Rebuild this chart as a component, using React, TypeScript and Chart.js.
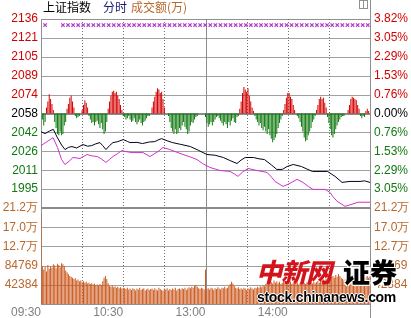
import React, { useEffect, useRef } from 'react';
import { Chart, registerables } from 'chart.js';

Chart.register(...registerables);

// ---------------- data ----------------
const prevClose = 2058.2;
const priceStep = 15.72;
const priceLabels = ['2136', '2121', '2105', '2089', '2074', '2058', '2042', '2026', '2011', '1995'];
const pctStep = 0.764;
const pctLabels = ['3.82%', '3.05%', '2.29%', '1.53%', '0.76%', '0.00%', '0.76%', '1.53%', '2.29%', '3.05%'];
const volStep = 42384;
const volLabels = ['21.2万', '17.0万', '12.7万', '84769', '42384'];
const timeTickMinutes = [0, 60, 120, 180];
const timeTickLabels = ['09:30', '10:30', '13:00', '14:00'];

// 上证指数 (black line)
const indexMinutes = [0, 3, 6, 9, 12, 15, 17.5, 20, 22.6, 26, 30.6, 34, 37, 40, 43, 45, 47.4, 50, 52.5, 56, 60, 63, 65, 70, 74, 79, 83, 86, 88, 92, 96, 102, 109, 115, 121, 127, 133, 138, 143, 146, 149, 155, 159, 163, 168, 172, 176, 179.5, 184, 190, 194, 198, 205, 209, 214.5, 219.6, 225.4, 232.7, 236, 240];
const indexValues = [2043.0, 2041.5, 2043.5, 2045.0, 2038.0, 2032.0, 2028.2, 2030.0, 2030.7, 2029.5, 2032.4, 2031.0, 2031.5, 2033.0, 2034.0, 2031.5, 2028.2, 2031.5, 2034.0, 2034.8, 2036.5, 2035.0, 2034.0, 2034.2, 2033.2, 2034.5, 2034.8, 2036.5, 2037.3, 2035.5, 2034.0, 2032.5, 2030.7, 2027.5, 2024.1, 2023.5, 2021.6, 2019.0, 2016.6, 2019.5, 2021.6, 2021.6, 2020.5, 2019.9, 2015.5, 2011.7, 2011.7, 2014.1, 2015.8, 2014.1, 2012.0, 2010.0, 2010.0, 2010.0, 2005.9, 2000.9, 2001.7, 2001.7, 2002.2, 2000.9];

// leading (magenta) line
const avgMinutes = [0, 4, 8.8, 12, 15, 17.5, 20.5, 23.3, 28.5, 33.6, 37, 40.9, 44, 47.4, 50, 52.5, 56, 59, 62, 66.4, 74.4, 79.5, 85.4, 89, 94, 99, 103.6, 109, 113.8, 118, 123.3, 130.6, 137.9, 141, 143.7, 147, 151, 157.6, 164.9, 168, 170.7, 176.5, 180.2, 186.8, 191.1, 195, 198.4, 207.2, 210.8, 213, 216, 221.8, 226.9, 231.3, 240];
const avgValues = [2031.5, 2034.5, 2038.1, 2030.0, 2020.0, 2015.8, 2018.5, 2021.6, 2020.8, 2024.1, 2023.0, 2022.4, 2020.5, 2017.5, 2020.0, 2022.4, 2025.0, 2027.4, 2026.5, 2025.7, 2025.7, 2022.4, 2026.6, 2029.9, 2028.2, 2026.0, 2024.1, 2022.0, 2019.9, 2016.5, 2013.3, 2010.8, 2010.0, 2008.0, 2005.9, 2009.5, 2012.5, 2010.8, 2009.2, 2005.5, 2001.7, 1997.6, 1999.3, 2003.4, 2000.9, 1997.5, 1995.1, 1995.1, 1992.6, 1989.0, 1985.2, 1981.0, 1982.7, 1984.4, 1984.4];

// 成交额 per minute (09:30 .. 15:00, 241 values)
const volumeValues = [
  199000,
  84000, 76000, 82000, 72000, 86000, 78000, 83000, 80000, 88000, 85000, 79000, 89000, 86000, 81000,
  90000, 88000, 84000,
  74000, 70000, 66000, 62000, 60000, 58000, 55000, 57000, 52000, 54000, 50000,
  52000, 48000, 50000, 47000, 49000, 45000, 47000, 44000, 46000, 43000, 45000, 42000,
  43000, 41000, 44000, 42000,
  50000, 58000, 62000, 55000, 46000,
  40000, 38000, 41000, 37000, 39000, 36000, 38000, 35000, 37000, 34000, 36000,
  35000, 33000, 36000, 32000, 34000, 31000, 35000, 33000, 30000, 34000, 32000, 36000, 31000, 33000, 35000, 30000, 32000, 34000, 31000, 33000,
  34000, 31000, 35000, 32000, 30000, 36000, 33000, 31000, 29000, 34000, 32000, 35000, 30000, 33000, 31000, 34000, 32000, 36000, 30000, 33000,
  34000, 32000, 35000, 33000, 36000, 31000, 34000, 37000, 35000, 38000, 36000, 40000, 42000, 38000, 35000, 33000, 36000, 34000, 32000,
  76000,
  33000, 35000, 32000, 36000, 34000, 31000, 35000, 33000, 37000, 34000, 32000, 36000, 35000, 38000, 34000, 36000, 40000, 44000, 49000, 45000,
  40000, 36000, 34000, 37000, 33000, 35000, 32000, 36000, 34000, 31000, 35000, 33000, 37000, 34000, 32000, 36000, 35000, 38000, 36000, 39000,
  37000, 41000, 39000, 44000, 42000, 46000, 43000, 48000, 45000, 52000, 47000, 50000, 46000, 49000, 44000, 47000, 51000, 48000, 45000, 50000,
  46000, 49000, 44000, 47000, 50000, 45000, 48000, 43000, 46000, 49000, 45000, 47000, 44000, 48000, 46000, 50000, 47000, 45000, 49000, 46000,
  48000, 51000, 47000, 52000, 50000, 54000, 51000, 56000, 53000, 58000, 55000, 60000, 62000, 58000, 64000, 60000, 66000, 62000, 58000, 55000,
  52000, 56000, 53000, 57000, 54000, 58000, 55000, 60000, 56000, 59000, 55000, 58000, 54000, 57000, 60000, 56000, 59000, 62000, 58000, 61000,
];

// red / green bars around the previous close, in index points (241 values)
const breadthValues = [
  0,
  -5, -10, -7,
  5, 10, 16, 12, 8, 3,
  -7, -12, -17, -18, -15, -18, -17, -10, -7,
  4, 8, 13, 15, 10, 5,
  -2, -4, -3, -2,
  0, 3, 7, 11, 9, 5,
  -2, -5, -8, -7, -10, -7, -6, -9, -12, -8, -13, -17, -15, -7,
  4, 10, 15, 18, 19, 17, 18, 15, 12, 7, 3,
  -2, -3, -5, -4, -2, -5, -7, -6, -4, -7, -9, -7, -5, -8, -10, -7, -6, -4, -2, -2,
  0,
  5, 10, 14, 18, 21, 20, 17, 18, 12, 5,
  0, 0,
  -2, -7, -12, -15, -17, -13, -17, -16, -12, -14, -10, -7, -11, -13, -17, -15, -10, -7, -8, -5, -3, -2,
  0, 0, 0, 0, 0,
  -3, -8, -11, -9, -7, -10, -7, -5, -3, -2, -4, -6, -8, -10, -7, -9, -12, -7, -10, -6, -4, -7, -8, -3, -2,
  4, 10, 17, 22, 20, 18, 21, 15, 10, 5, 2,
  -2, -5, -7, -10, -8, -12, -14, -11, -15, -17, -13, -18, -21, -24, -22, -20, -17, -12, -8, -5, -2,
  3, 8, 13, 17, 17, 14, 12, 7, 3,
  0,
  -2, -4, -7, -11, -15, -20, -23, -22, -18, -15, -12, -7, -5, -2,
  3, 7, 12, 14, 12, 13, 9, 5,
  -3, -8, -13, -18, -20, -17, -13, -10, -7, -5, -3, -2, -2, 0,
  0,
  3, 7, 12, 14, 13, 12, 11, 7, 4,
  -2, -4, -2, -3,
  2, 4, 2,
  0,
];

// marker row (×) at the top of the price panel
const crossLevel = 2131.8;
const crossMinutes = [3, 16.0, 19.7, 23.4, 27.1, 30.8, 34.5, 38.2, 41.9, 45.6, 49.4, 53.1, 56.8, 60.5, 64.2, 67.9, 71.6, 75.3, 79.0, 82.7, 86.4, 90.1, 93.8, 97.5, 101.2, 104.9, 108.7, 112.4, 116.1, 119.8, 123.5, 127.2, 130.9, 134.6, 138.3, 142.0, 145.7, 149.4, 153.1, 156.8, 160.5, 164.2, 168.0, 171.7, 175.4, 179.1, 182.8, 186.5, 190.2, 193.9, 197.6, 201.3, 205.0, 208.7, 212.4, 216.1, 219.8, 223.6, 227.3, 231.0, 234.7, 238.4];

// ---------------- layout constants ----------------
const SESSION = 240;
const DOTTED_MINUTES = [30, 60, 90, 150, 180, 210];
const LUNCH_MINUTE = 120;

const RED = '#d40000';
const GREEN = '#107a10';
const VOL_TEXT = '#b8682e';

const gridPlugin = {
  id: 'panelGrid',
  beforeDatasetsDraw(chart: any) {
    const { ctx } = chart;
    const x = chart.scales.x;
    const y = chart.scales.y;
    const yv = chart.scales.yv;
    const L = Math.round(x.getPixelForValue(0));
    const R = Math.round(x.getPixelForValue(SESSION));
    const top = Math.round(y.getPixelForValue(y.max));
    const sep = Math.round(y.getPixelForValue(y.min));
    const bottom = Math.round(yv.getPixelForValue(0));
    ctx.save();
    const h = (py: number, w: number, color: string) => {
      const yy = w % 2 ? Math.round(py) + 0.5 : Math.round(py);
      ctx.beginPath();
      ctx.setLineDash([]);
      ctx.lineWidth = w;
      ctx.strokeStyle = color;
      ctx.moveTo(L, yy);
      ctx.lineTo(R + 1, yy);
      ctx.stroke();
    };
    const v = (px: number, y0: number, y1: number, dash: number[], color: string) => {
      const xx = Math.round(px) + 0.5;
      ctx.beginPath();
      ctx.setLineDash(dash);
      ctx.lineWidth = 1;
      ctx.strokeStyle = color;
      ctx.moveTo(xx, y0);
      ctx.lineTo(xx, y1);
      ctx.stroke();
    };
    y.ticks.forEach((t: any, i: number) => {
      if (i === 0 || i === y.ticks.length - 1) return;
      h(y.getPixelForValue(t.value), i === 5 ? 2 : 1, i === 5 ? '#8c8c8c' : '#a0a0a0');
    });
    yv.ticks.forEach((t: any, i: number) => {
      if (i === 0 || i === yv.ticks.length - 1) return;
      h(yv.getPixelForValue(t.value), 1, '#a0a0a0');
    });
    h(top, 1, '#909090');
    h(bottom, 1, '#909090');
    DOTTED_MINUTES.forEach((m) => v(x.getPixelForValue(m), top, bottom, [1, 2], '#707070'));
    v(x.getPixelForValue(LUNCH_MINUTE), top, bottom, [], '#8c8c8c');
    v(L, top, bottom, [], '#909090');
    v(R, 0, chart.height, [], '#909090');
    h(sep, 2, '#8a8a8a');
    ctx.restore();
  },
};

export default function App() {
  const ref = useRef<HTMLCanvasElement>(null);

  useEffect(() => {
    const canvas = ref.current;
    if (!canvas) return;
    const priceMin = prevClose - 5 * priceStep;
    const priceMax = prevClose + 5 * priceStep;
    const volMax = 5 * volStep;
    const font = { family: "'Liberation Sans', Arial, sans-serif", size: 12 };
    const sideColor = (i: number) => (i > 5 ? RED : i === 5 ? '#000000' : GREEN);

    const priceTicks = Array.from({ length: 11 }, (_, i) => ({ value: priceMin + i * priceStep }));
    const pctTicks = Array.from({ length: 11 }, (_, i) => ({ value: -5 * pctStep + i * pctStep }));
    const volTicks = Array.from({ length: 6 }, (_, i) => ({ value: i * volStep }));

    const breadthData = breadthValues
      .map((b, i) => ({ x: i, y: [prevClose, prevClose + b] }))
      .filter((d) => d.y[1] !== d.y[0]);

    const chart = new Chart(canvas, {
      type: 'bar',
      data: {
        datasets: [
          {
            type: 'line',
            data: crossMinutes.map((m) => ({ x: m, y: crossLevel })),
            yAxisID: 'y',
            showLine: false,
            pointStyle: 'crossRot',
            pointRadius: 2.4,
            pointBorderWidth: 1.2,
            borderColor: '#b03cc8',
            backgroundColor: '#b03cc8',
          } as any,
          {
            type: 'line',
            data: indexMinutes.map((m, i) => ({ x: m, y: indexValues[i] })),
            yAxisID: 'y',
            borderColor: '#000018',
            borderWidth: 1,
            pointRadius: 0,
            tension: 0,
          },
          {
            type: 'line',
            data: avgMinutes.map((m, i) => ({ x: m, y: avgValues[i] })),
            yAxisID: 'y',
            borderColor: '#cc33cc',
            borderWidth: 1,
            pointRadius: 0,
            tension: 0,
          },
          {
            type: 'bar',
            data: breadthData as any,
            yAxisID: 'y',
            grouped: false,
            barThickness: 1,
            inflateAmount: 0,
            backgroundColor: (c: any) => (c.raw && c.raw.y[1] > c.raw.y[0] ? RED : GREEN),
          } as any,
          {
            type: 'bar',
            data: volumeValues.map((vv, i) => ({ x: i, y: vv })),
            yAxisID: 'yv',
            grouped: false,
            barThickness: 1,
            inflateAmount: 0,
            backgroundColor: '#cc5a20',
          } as any,
        ],
      },
      options: {
        responsive: false,
        maintainAspectRatio: false,
        devicePixelRatio: 1,
        animation: false,
        events: [],
        layout: { padding: { top: 19, left: 0, right: 0, bottom: 0 } },
        plugins: { legend: { display: false }, tooltip: { enabled: false } },
        scales: {
          x: {
            type: 'linear',
            min: 0,
            max: SESSION,
            offset: false,
            grid: { display: false, drawTicks: false },
            border: { display: false },
            afterBuildTicks: (s: any) => {
              s.ticks = timeTickMinutes.map((m) => ({ value: m }));
            },
            afterFit: (s: any) => {
              s.height = 14;
            },
            ticks: {
              autoSkip: false,
              maxRotation: 0,
              minRotation: 0,
              align: 'end',
              padding: 1,
              color: '#808080',
              font,
              callback: (_v: any, i: number) => timeTickLabels[i] ?? '',
            },
          } as any,
          yv: {
            type: 'linear',
            position: 'left',
            stack: 'left',
            stackWeight: 96,
            min: 0,
            max: volMax,
            grid: { display: false, drawTicks: false },
            border: { display: false },
            afterBuildTicks: (s: any) => {
              s.ticks = volTicks.map((t) => ({ ...t }));
            },
            afterFit: (s: any) => {
              s.width = 41;
            },
            ticks: {
              autoSkip: false,
              padding: 3,
              color: VOL_TEXT,
              font,
              callback: (_v: any, i: number) => (i === 0 ? '' : volLabels[5 - i]),
            },
          } as any,
          y: {
            type: 'linear',
            position: 'left',
            stack: 'left',
            stackWeight: 189,
            min: priceMin,
            max: priceMax,
            grid: { display: false, drawTicks: false },
            border: { display: false },
            afterBuildTicks: (s: any) => {
              s.ticks = priceTicks.map((t) => ({ ...t }));
            },
            afterFit: (s: any) => {
              s.width = 41;
            },
            ticks: {
              autoSkip: false,
              padding: 3,
              color: (c: any) => sideColor(c.index),
              font,
              callback: (_v: any, i: number) => (i === 0 ? '' : priceLabels[10 - i]),
            },
          } as any,
          yr: {
            type: 'linear',
            position: 'right',
            stack: 'right',
            stackWeight: 189,
            min: -5 * pctStep,
            max: 5 * pctStep,
            grid: { display: false, drawTicks: false },
            border: { display: false },
            afterBuildTicks: (s: any) => {
              s.ticks = pctTicks.map((t) => ({ ...t }));
            },
            afterFit: (s: any) => {
              s.width = 41;
            },
            ticks: {
              autoSkip: false,
              padding: 4,
              color: (c: any) => sideColor(c.index),
              font,
              callback: (_v: any, i: number) => (i === 0 ? '' : pctLabels[10 - i]),
            },
          } as any,
          yvr: {
            type: 'linear',
            position: 'right',
            stack: 'right',
            stackWeight: 96,
            min: 0,
            max: volMax,
            grid: { display: false, drawTicks: false },
            border: { display: false },
            afterBuildTicks: (s: any) => {
              s.ticks = volTicks.map((t) => ({ ...t }));
            },
            afterFit: (s: any) => {
              s.width = 41;
            },
            ticks: {
              autoSkip: false,
              padding: 4,
              color: VOL_TEXT,
              font,
              callback: (_v: any, i: number) => (i === 0 ? '' : volLabels[5 - i]),
            },
          } as any,
        },
      } as any,
      plugins: [gridPlugin],
    });
    return () => chart.destroy();
  }, []);

  const cjk = "'Noto Sans CJK SC', 'Noto Sans', sans-serif";
  return (
    <div style={{ position: 'fixed', left: 0, top: 0, width: 411, height: 318, background: '#fff', overflow: 'hidden' }}>
      <canvas ref={ref} width={411} height={318} style={{ position: 'absolute', left: 0, top: 0, width: 411, height: 318 }} />
      <span style={{ position: 'absolute', left: 43, top: 0, font: `12px ${cjk}`, lineHeight: '14px', color: '#000', whiteSpace: 'nowrap' }}>上证指数</span>
      <span style={{ position: 'absolute', left: 103, top: 0, font: `12px ${cjk}`, lineHeight: '14px', color: '#1a1a70', whiteSpace: 'nowrap' }}>分时</span>
      <span style={{ position: 'absolute', left: 131, top: 0, font: `12px ${cjk}`, lineHeight: '14px', color: VOL_TEXT, whiteSpace: 'nowrap' }}>成交额(万)</span>
      <div style={{ position: 'absolute', left: 359, top: 0, width: 7, height: 7, border: '1px solid #909090' }}>
        <div style={{ position: 'absolute', left: 3, top: 0, width: 1, height: 7, background: '#909090' }} />
      </div>
      <span style={{ position: 'absolute', left: 256, top: 254, font: `italic 900 26px ${cjk}`, lineHeight: '34px', color: '#d4141c', whiteSpace: 'nowrap', letterSpacing: -1 }}>中新网</span>
      <span style={{ position: 'absolute', left: 343, top: 255, font: `900 27px ${cjk}`, lineHeight: '34px', color: '#000', whiteSpace: 'nowrap', textShadow: '1px 1px 0 #fff, -1px -1px 0 #fff, 1px -1px 0 #fff, -1px 1px 0 #fff' }}>证券</span>
      <span style={{ position: 'absolute', left: 257, top: 289, font: "bold 14px 'Liberation Sans', Arial, sans-serif", lineHeight: '16px', color: '#000', whiteSpace: 'nowrap', letterSpacing: -0.3, textShadow: '1px 0 0 #fff, -1px 0 0 #fff, 0 1px 0 #fff, 0 -1px 0 #fff' }}>stock.chinanews.com</span>
    </div>
  );
}
